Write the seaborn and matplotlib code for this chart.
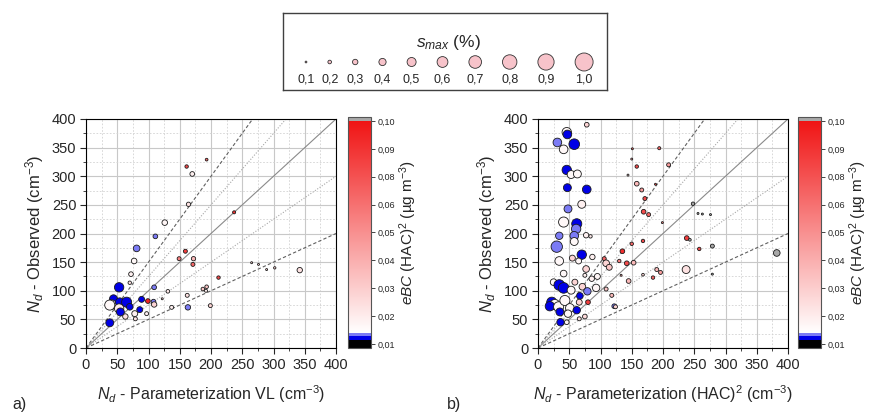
import numpy as np
import matplotlib
matplotlib.use("Agg")
import matplotlib.pyplot as plt
import matplotlib.colors as mcolors
import matplotlib.cm as cm
import pandas as pd
import seaborn as sns
from matplotlib.ticker import MultipleLocator

# a) Nd observed vs VL parameterization
xa = [161, 193, 170, 164, 237, 126, 111, 81, 77, 159, 149, 172, 171, 212, 72, 70, 53, 109, 131, 122,
      89, 99, 108, 109, 44, 41, 38, 54, 65, 53, 55, 70, 86, 78, 63, 79, 97, 38, 137, 162,
      163, 187, 193, 192, 199, 265, 276, 289, 302, 342]
ya = [317, 329, 304, 251, 237, 219, 195, 174, 152, 169, 156, 156, 146, 123, 129, 114, 106, 106, 99, 86,
      85, 82, 81, 76, 86, 76, 75, 80, 80, 69, 63, 72, 67, 60, 55, 51, 60, 44, 71, 92,
      71, 103, 107, 100, 74, 149, 146, 137, 140, 136]
smax_a = [0.19, 0.15, 0.26, 0.24, 0.17, 0.31, 0.26, 0.37, 0.31, 0.22, 0.22, 0.24, 0.22, 0.19, 0.26, 0.19, 0.52, 0.26, 0.2, 0.11,
          0.33, 0.26, 0.26, 0.3, 0.44, 0.52, 0.56, 0.48, 0.56, 0.52, 0.44, 0.37, 0.33, 0.33, 0.3, 0.22, 0.22, 0.44, 0.22, 0.22,
          0.3, 0.2, 0.2, 0.17, 0.22, 0.11, 0.11, 0.11, 0.13, 0.3]
ebc_a = [0.08, 0.07, 0.02, 0.025, 0.09, 0.018, 0.0138, 0.0138, 0.017, 0.085, 0.06, 0.04, 0.07, 0.08, 0.02, 0.025, 0.0122, 0.0135, 0.022, 0.03,
         0.0122, 0.095, 0.0138, 0.03, 0.0122, 0.022, 0.017, 0.0122, 0.0122, 0.022, 0.0122, 0.0122, 0.0122, 0.02, 0.025, 0.025, 0.02, 0.0122, 0.02, 0.025,
         0.0138, 0.035, 0.035, 0.02, 0.03, 0.03, 0.03, 0.03, 0.03, 0.025]

# b) Nd observed vs (HAC)^2 parameterization
xb = [78, 46, 47, 31, 58, 41, 46, 53, 63, 47, 78, 70, 48, 41, 62, 61, 58, 34, 58, 30,
      70, 34, 55, 77, 84, 87, 77, 65, 41, 25, 75, 86, 95, 93, 34, 41, 53, 59, 71, 79,
      67, 22, 27, 19, 33, 43, 51, 48, 62, 35, 36, 46, 66, 75, 66, 80, 106, 109, 114, 109,
      118, 122, 124, 130, 135, 142, 153, 150, 145, 133, 144, 151, 150, 158, 158, 166, 171, 169, 177, 168,
      188, 194, 209, 199, 168, 184, 190, 196, 238, 243, 258, 237, 248, 256, 263, 276, 279, 279, 382]
yb = [390, 377, 373, 359, 356, 347, 311, 303, 304, 280, 277, 251, 243, 220, 217, 208, 196, 196, 186, 177,
      163, 152, 157, 197, 195, 159, 138, 152, 130, 115, 127, 121, 125, 105, 110, 105, 101, 115, 107, 99,
      91, 80, 76, 73, 72, 83, 70, 60, 66, 63, 45, 45, 80, 55, 51, 80, 156, 148, 141, 103,
      92, 73, 72, 152, 169, 148, 149, 182, 117, 127, 302, 348, 330, 317, 287, 276, 261, 238, 233, 187,
      286, 349, 320, 219, 128, 123, 137, 132, 192, 189, 173, 137, 252, 235, 234, 233, 178, 129, 166]
smax_b = [0.26, 0.52, 0.48, 0.48, 0.59, 0.48, 0.52, 0.44, 0.44, 0.44, 0.48, 0.44, 0.44, 0.56, 0.56, 0.52, 0.48, 0.41, 0.44, 0.63,
          0.52, 0.48, 0.33, 0.3, 0.19, 0.3, 0.37, 0.33, 0.37, 0.37, 0.22, 0.3, 0.33, 0.41, 0.59, 0.59, 0.44, 0.33, 0.37, 0.41,
          0.37, 0.56, 0.56, 0.52, 0.56, 0.56, 0.48, 0.41, 0.41, 0.44, 0.41, 0.26, 0.33, 0.26, 0.22, 0.26, 0.22, 0.37, 0.33, 0.22,
          0.22, 0.26, 0.22, 0.19, 0.26, 0.26, 0.26, 0.19, 0.26, 0.11, 0.11, 0.11, 0.11, 0.19, 0.26, 0.22, 0.22, 0.26, 0.22, 0.19,
          0.11, 0.17, 0.22, 0.11, 0.15, 0.19, 0.22, 0.22, 0.26, 0.15, 0.19, 0.44, 0.19, 0.11, 0.11, 0.11, 0.22, 0.11, 0.37]
ebc_b = [0.03, 0.017, 0.0122, 0.0138, 0.0122, 0.017, 0.0122, 0.017, 0.017, 0.0122, 0.0122, 0.02, 0.0138, 0.017, 0.0122, 0.0138, 0.0138, 0.0138, 0.017, 0.0138,
         0.0122, 0.017, 0.03, 0.02, 0.022, 0.02, 0.03, 0.018, 0.017, 0.017, 0.02, 0.02, 0.018, 0.018, 0.0122, 0.0122, 0.017, 0.03, 0.03, 0.0138,
         0.0122, 0.0122, 0.017, 0.0122, 0.017, 0.017, 0.017, 0.017, 0.0122, 0.0122, 0.0122, 0.018, 0.03, 0.028, 0.025, 0.085, 0.07, 0.03, 0.035, 0.035,
         0.04, 0.0138, 0.03, 0.06, 0.09, 0.08, 0.04, 0.07, 0.04, 0.05, 0.03, 0.07, 0.05, 0.08, 0.04, 0.05, 0.08, 0.08, 0.07, 0.08,
         0.08, 0.07, 0.05, 0.06, 0.03, 0.07, 0.04, 0.05, 0.085, 0.101, 0.08, 0.025, 0.101, 0.101, 0.101, 0.101, 0.101, 0.101, 0.101]

leg_smax = [0.1, 0.2, 0.3, 0.4, 0.5, 0.6, 0.7, 0.8, 0.9, 1.0]
leg_labels = ['0,1', '0,2', '0,3', '0,4', '0,5', '0,6', '0,7', '0,8', '0,9', '1,0']
cbar_labels = ['0,01', '0,02', '0,03', '0,04', '0,05', '0,06', '0,08', '0,09', '0,10']

sns.set_style("ticks")
plt.rcParams['font.family'] = ['Liberation Sans', 'DejaVu Sans']
plt.rcParams['mathtext.fontset'] = 'custom'
plt.rcParams['mathtext.rm'] = 'Liberation Sans'
plt.rcParams['mathtext.it'] = 'Liberation Sans:italic'

vmin, vmax = 0.0084, 0.1016
def p(v):
    return (v - vmin) / (vmax - vmin)

cmap = mcolors.LinearSegmentedColormap.from_list('ebc', [
    (0, 'black'), (p(0.0116), 'black'),
    (p(0.0116), '#0000e6'), (p(0.0132), '#0000e6'),
    (p(0.0132), '#7b7bf5'), (p(0.0144), '#7b7bf5'),
    (p(0.0144), 'white'), (p(0.1), '#f01414'),
    (p(0.1), '#a8a8a8'), (1, '#a8a8a8')], N=512)
norm = mcolors.Normalize(vmin, vmax)

W, H = 869, 412
fig = plt.figure(figsize=(W / 100, H / 100), dpi=100)


def panel(x0, cx0, x, y, smax, ebc, xlabel):
    ax = fig.add_axes([x0 / W, 1 - 348 / H, 250 / W, 229 / H])
    cax = fig.add_axes([cx0 / W, 1 - 348 / H, 23 / W, 231 / H])
    ax.set_axisbelow(True)
    ax.xaxis.set_major_locator(MultipleLocator(50))
    ax.yaxis.set_major_locator(MultipleLocator(50))
    ax.xaxis.set_minor_locator(MultipleLocator(25))
    ax.yaxis.set_minor_locator(MultipleLocator(25))
    ax.grid(which='major', color='#c8c8c8', lw=0.8)
    ax.grid(which='minor', color='#d2d2d2', lw=0.6, ls=(0, (2, 2)))
    for slope, ls, c in [(1, '-', '#8a8a8a'), (1.5, (0, (3, 2)), '#606060'), (0.5, (0, (3, 2)), '#606060'),
                         (1.25, (0, (1, 1.5)), '#a8a8a8'), (0.75, (0, (1, 1.5)), '#a8a8a8')]:
        ax.axline((0, 0), slope=slope, color=c, ls=ls, lw=0.8, zorder=2)
    df = pd.DataFrame({'x': x, 'y': y, 'area': np.array(smax) ** 2, 'ebc': ebc})
    sns.scatterplot(data=df, x='x', y='y', hue='ebc', size='area', palette=cmap, hue_norm=norm,
                    sizes=(0, 168), size_norm=(0, 1), edgecolor='#1a1a1a', linewidth=0.6,
                    legend=False, ax=ax, zorder=3)
    ax.set_xlim(0, 400)
    ax.set_ylim(0, 400)
    ax.tick_params(which='major', direction='out', length=4, width=0.8, labelsize=10.5, pad=3)
    ax.tick_params(which='minor', direction='out', length=2.5, width=0.6)
    for s in ax.spines.values():
        s.set_color('black')
        s.set_linewidth(0.8)
    ax.set_xlabel(xlabel, fontsize=11.5, labelpad=8)
    ax.set_ylabel(r'$N_d$ - Observed (cm$^{-3}$)', fontsize=12, labelpad=4)

    cb = fig.colorbar(cm.ScalarMappable(norm=norm, cmap=cmap), cax=cax)
    cb.set_ticks(np.linspace(0.01, 0.10, 9))
    cb.set_ticklabels(cbar_labels)
    cb.minorticks_off()
    cb.ax.tick_params(labelsize=6.5, length=3, width=0.6, pad=2)
    cb.outline.set_edgecolor('#555555')
    cb.outline.set_linewidth(0.8)
    cb.set_label(r'$eBC$ (HAC)$^2$ (µg m$^{-3}$)', fontsize=11, labelpad=1)
    return ax


panel(86, 348, xa, ya, smax_a, ebc_a, r'$N_d$ - Parameterization VL (cm$^{-3}$)')
panel(538, 798, xb, yb, smax_b, ebc_b, r'$N_d$ - Parameterization (HAC)$^2$ (cm$^{-3}$)')

fig.text(12 / W, 1 - 404 / H, 'a)', fontsize=11.5, va='center')
fig.text(447 / W, 1 - 404 / H, 'b)', fontsize=11.5, va='center')

# size legend box
axl = fig.add_axes([283 / W, 1 - 90 / H, 324 / W, 77 / H])
axl.set_xlim(0, 324)
axl.set_ylim(77, 0)
r = 9 * np.array(leg_smax)
cx = 23 + np.concatenate([[0], np.cumsum(21 + r[1:] + r[:-1])])
dl = pd.DataFrame({'x': cx, 'y': 49, 'area': np.array(leg_smax) ** 2})
sns.scatterplot(data=dl, x='x', y='y', size='area', sizes=(0, 168), size_norm=(0, 1),
                color='#f7c3ca', edgecolor='#303030', linewidth=0.6, legend=False, ax=axl)
for xx, lab in zip(cx, leg_labels):
    axl.text(xx, 67, lab, ha='center', va='center', fontsize=9)
axl.text(165, 29, r'$s_{max}$ (%)', ha='center', va='center', fontsize=12.5)
axl.set_xticks([])
axl.set_yticks([])
axl.set_xlabel('')
axl.set_ylabel('')
for s in axl.spines.values():
    s.set_color('#404040')
    s.set_linewidth(1)

fig.savefig('out.png', dpi=100)
